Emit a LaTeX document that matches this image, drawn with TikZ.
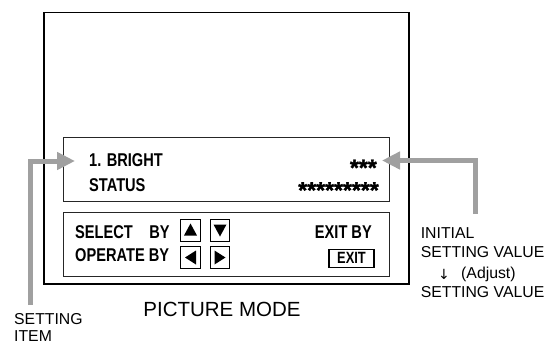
\documentclass[tikz,border=0pt]{standalone}
\usepackage{fontspec}
\setmainfont{Liberation Sans}
\newfontfamily\condfont[FakeStretch=0.79]{Liberation Sans}
\newfontfamily\starfont[FakeBold=1.5]{Liberation Sans}
\newfontfamily\arrowfont{DejaVu Sans}
\usetikzlibrary{arrows.meta}
\definecolor{arrowgray}{RGB}{160,160,160}
\tikzset{
  tvframe/.style={draw=black, line width=1.8bp},
  panel/.style={draw=black!85, line width=1bp},
  btn/.style={draw=black, line width=1bp, minimum width=19.5bp, minimum height=22bp, inner sep=0pt},
  osd/.style={inner sep=0pt, font=\condfont\bfseries\fontsize{18.5bp}{20bp}\selectfont},
  osdsmall/.style={inner sep=0pt, font=\condfont\bfseries\fontsize{16.3bp}{18bp}\selectfont},
  sidetext/.style={inner sep=0pt, font=\fontsize{15.8bp}{18bp}\selectfont},
  titletext/.style={inner sep=0pt, font=\fontsize{20.5bp}{22bp}\selectfont},
  starrow/.style={inner sep=0pt, font=\starfont\bfseries\fontsize{23bp}{25bp}\selectfont},
  grayarrow/.style={draw=arrowgray, line width=5bp, -{Triangle[length=18bp,width=17bp]}},
  trifill/.style={fill=black},
}
\begin{document}
\begin{tikzpicture}[x=1bp,y=-1bp]
\useasboundingbox (0,0) rectangle (547,345);
% outer frame and panels
\draw[tvframe] (44,12.5) rectangle (409,284);
\draw[panel] (63.5,137) rectangle (389.5,201);
\draw[panel] (63.5,212) rectangle (389.5,276);
% first panel texts
\node[osd, anchor=base west] (bright) at (89,166.7) {1. BRIGHT};
\node[osd, anchor=base west] (status) at (89,191) {STATUS};
\node[starrow, anchor=north east] (stars1) at (377,159.5) {***};
\node[starrow, anchor=north east] (stars2) at (379,182) {*********};
% second panel texts
\node[osd, anchor=base west] (select) at (75,238.3) {SELECT\hspace{12.5bp} BY};
\node[osd, anchor=base west] (operate) at (75,261.7) {OPERATE BY};
\node[osd, anchor=base east] (exitby) at (372,238.3) {EXIT BY};
\node[osdsmall, draw=black, line width=1.6bp, minimum width=45bp, minimum height=18bp] (exitbtn) at (351.5,258.3) {EXIT};
% buttons
\node[btn] (up) at (190.5,230) {};
\node[btn] (down) at (220,230) {};
\node[btn] (left) at (190.5,257.5) {};
\node[btn] (right) at (220,257.5) {};
\fill[trifill, shift={(up)}] (0,-6.5) -- (6.5,5.5) -- (-6.5,5.5) -- cycle;
\fill[trifill, shift={(down)}] (0,6.5) -- (6.5,-5.5) -- (-6.5,-5.5) -- cycle;
\fill[trifill, shift={(left)}] (-5.5,0) -- (5.5,-7) -- (5.5,7) -- cycle;
\fill[trifill, shift={(right)}] (5.5,0) -- (-5.5,-7) -- (-5.5,7) -- cycle;
% title
\node[titletext, anchor=base] (mode) at (222,316.7) {PICTURE MODE};
% side labels
\node[sidetext, anchor=base west] (setting) at (14,324.5) {SETTING};
\node[sidetext, anchor=base west] (item) at (14,341.7) {ITEM};
\node[sidetext, anchor=base west] (initial) at (420.6,238.6) {INITIAL};
\node[sidetext, anchor=base west] (setval1) at (420.6,257.6) {SETTING VALUE};
\node[inner sep=0pt, anchor=base, font=\arrowfont\fontsize{14bp}{16bp}\selectfont] (darrow) at (444,279) {↓};
\node[sidetext, anchor=base west] (adjust) at (461,278.6) {(Adjust)};
\node[sidetext, anchor=base west] (setval2) at (420.6,297.6) {SETTING VALUE};
% gray pointers
\coordinate (lstart) at (30,305);
\coordinate (ltip) at (75,161);
\coordinate (rstart) at (475.5,214);
\coordinate (rtip) at (382,160.5);
\draw[grayarrow] (lstart) |- (ltip);
\draw[grayarrow] (rstart) |- (rtip);
\end{tikzpicture}
\end{document}
